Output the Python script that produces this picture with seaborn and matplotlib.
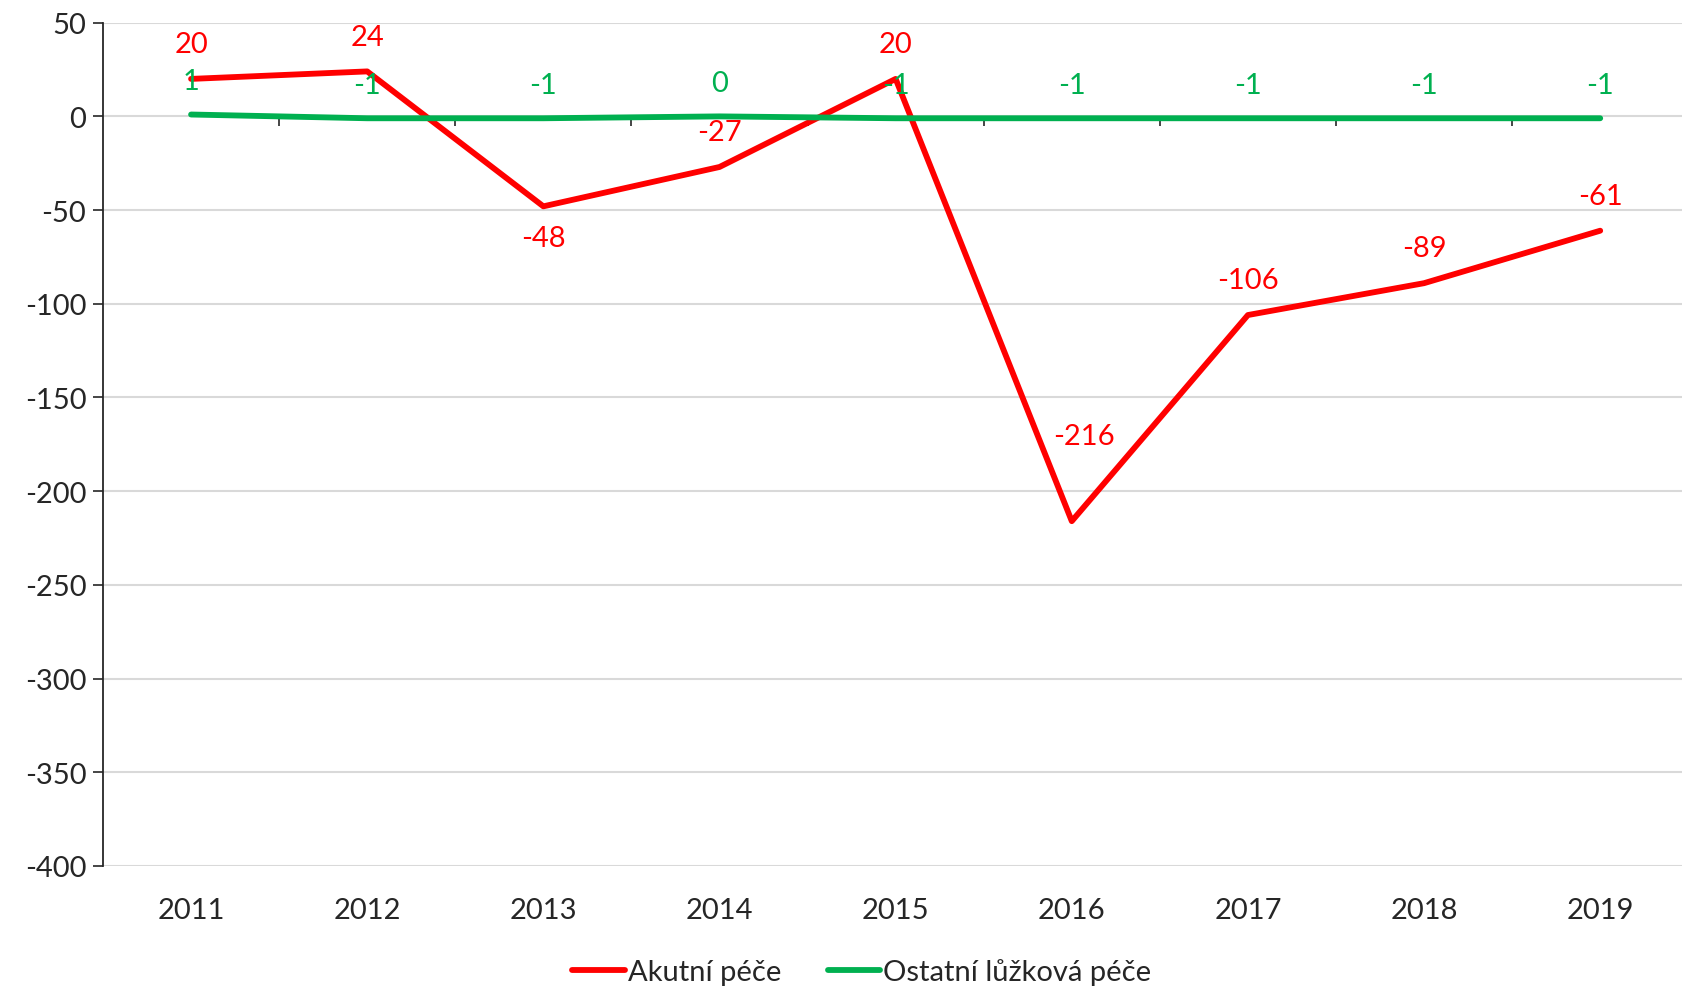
import matplotlib.pyplot as plt
import seaborn as sns
import pandas as pd

years = ['2011', '2012', '2013', '2014', '2015', '2016', '2017', '2018', '2019']
akutni = [20, 24, -48, -27, 20, -216, -106, -89, -61]
ostatni = [1, -1, -1, 0, -1, -1, -1, -1, -1]
series_names = ['Akutní péče', 'Ostatní lůžková péče']
y_ticks = [50, 0, -50, -100, -150, -200, -250, -300, -350, -400]

# label placement per point for the red series: (dx, dy) in points
red_offsets = [(0, 25), (0, 25), (0, -23), (0, 25), (0, 25), (9, 61), (0, 25), (0, 25), (0, 25)]

df = pd.DataFrame({
    'pos': list(range(len(years))) * 2,
    'value': akutni + ostatni,
    'series': [series_names[0]] * len(years) + [series_names[1]] * len(years),
})

sns.set_theme(style="white")
plt.rcParams['font.family'] = ['Lato', 'DejaVu Sans']
text_col = '#262626'
fs = 21

fig = plt.figure(figsize=(16.83, 9.87), dpi=100)
ax = fig.add_axes([0.0612, 0.1216, 0.9388, 0.8544])

colors = {series_names[0]: '#ff0000', series_names[1]: '#00b050'}
sns.lineplot(data=df, x='pos', y='value', hue='series', palette=colors,
             linewidth=4.2, ax=ax, legend=False)
for ln in ax.get_lines():
    ln.set_solid_capstyle('round')

ax.set_xlim(-0.5, 8.47)
ax.set_ylim(-400, 50)
ax.set_yticks(y_ticks)
ax.set_yticklabels([str(v) for v in y_ticks], fontsize=fs, color=text_col)
ax.set_xticks(range(len(years)))
ax.set_xticklabels(years, fontsize=fs, color=text_col)
ax.tick_params(axis='x', length=0, pad=22)
ax.tick_params(axis='y', length=7, width=1.2, color=text_col, left=True, direction='out', pad=5)
ax.set_xlabel('')
ax.set_ylabel('')

ax.yaxis.grid(True, color='#d9d9d9', linewidth=1.5)
ax.set_axisbelow(True)
for s in ['top', 'right', 'bottom']:
    ax.spines[s].set_visible(False)
ax.spines['left'].set_color(text_col)
ax.spines['left'].set_linewidth(1.3)

# zero axis with category boundary ticks
sec = ax.secondary_xaxis(400 / 450)
sec.set_xticks([i + 0.5 for i in range(len(years) - 1)])
sec.set_xticklabels([])
sec.tick_params(axis='x', direction='out', length=7, width=1.2, color=text_col)
sec.spines['bottom'].set_color('#222222')
sec.spines['bottom'].set_linewidth(1.5)
sec.spines['top'].set_visible(False)
sec.xaxis.set_ticks_position('bottom')

for i, v in enumerate(ostatni):
    ax.annotate(str(v), (i, v), xytext=(0, 24), textcoords='offset points',
                ha='center', va='center', fontsize=fs, color='#00b050')
for i, v in enumerate(akutni):
    dx, dy = red_offsets[i]
    ax.annotate(str(v), (i, v), xytext=(dx, dy), textcoords='offset points',
                ha='center', va='center', fontsize=fs, color='#ff0000')

handles = [plt.Line2D([], [], color=colors[n], linewidth=4.2, solid_capstyle='round') for n in series_names]
fig.legend(handles, series_names, loc='lower center', bbox_to_anchor=(0.512, -0.026), ncol=2,
           frameon=False, fontsize=fs, handlelength=1.8, handletextpad=0.1, columnspacing=1.6,
           labelcolor=text_col)

fig.savefig('out.png', dpi=100)
